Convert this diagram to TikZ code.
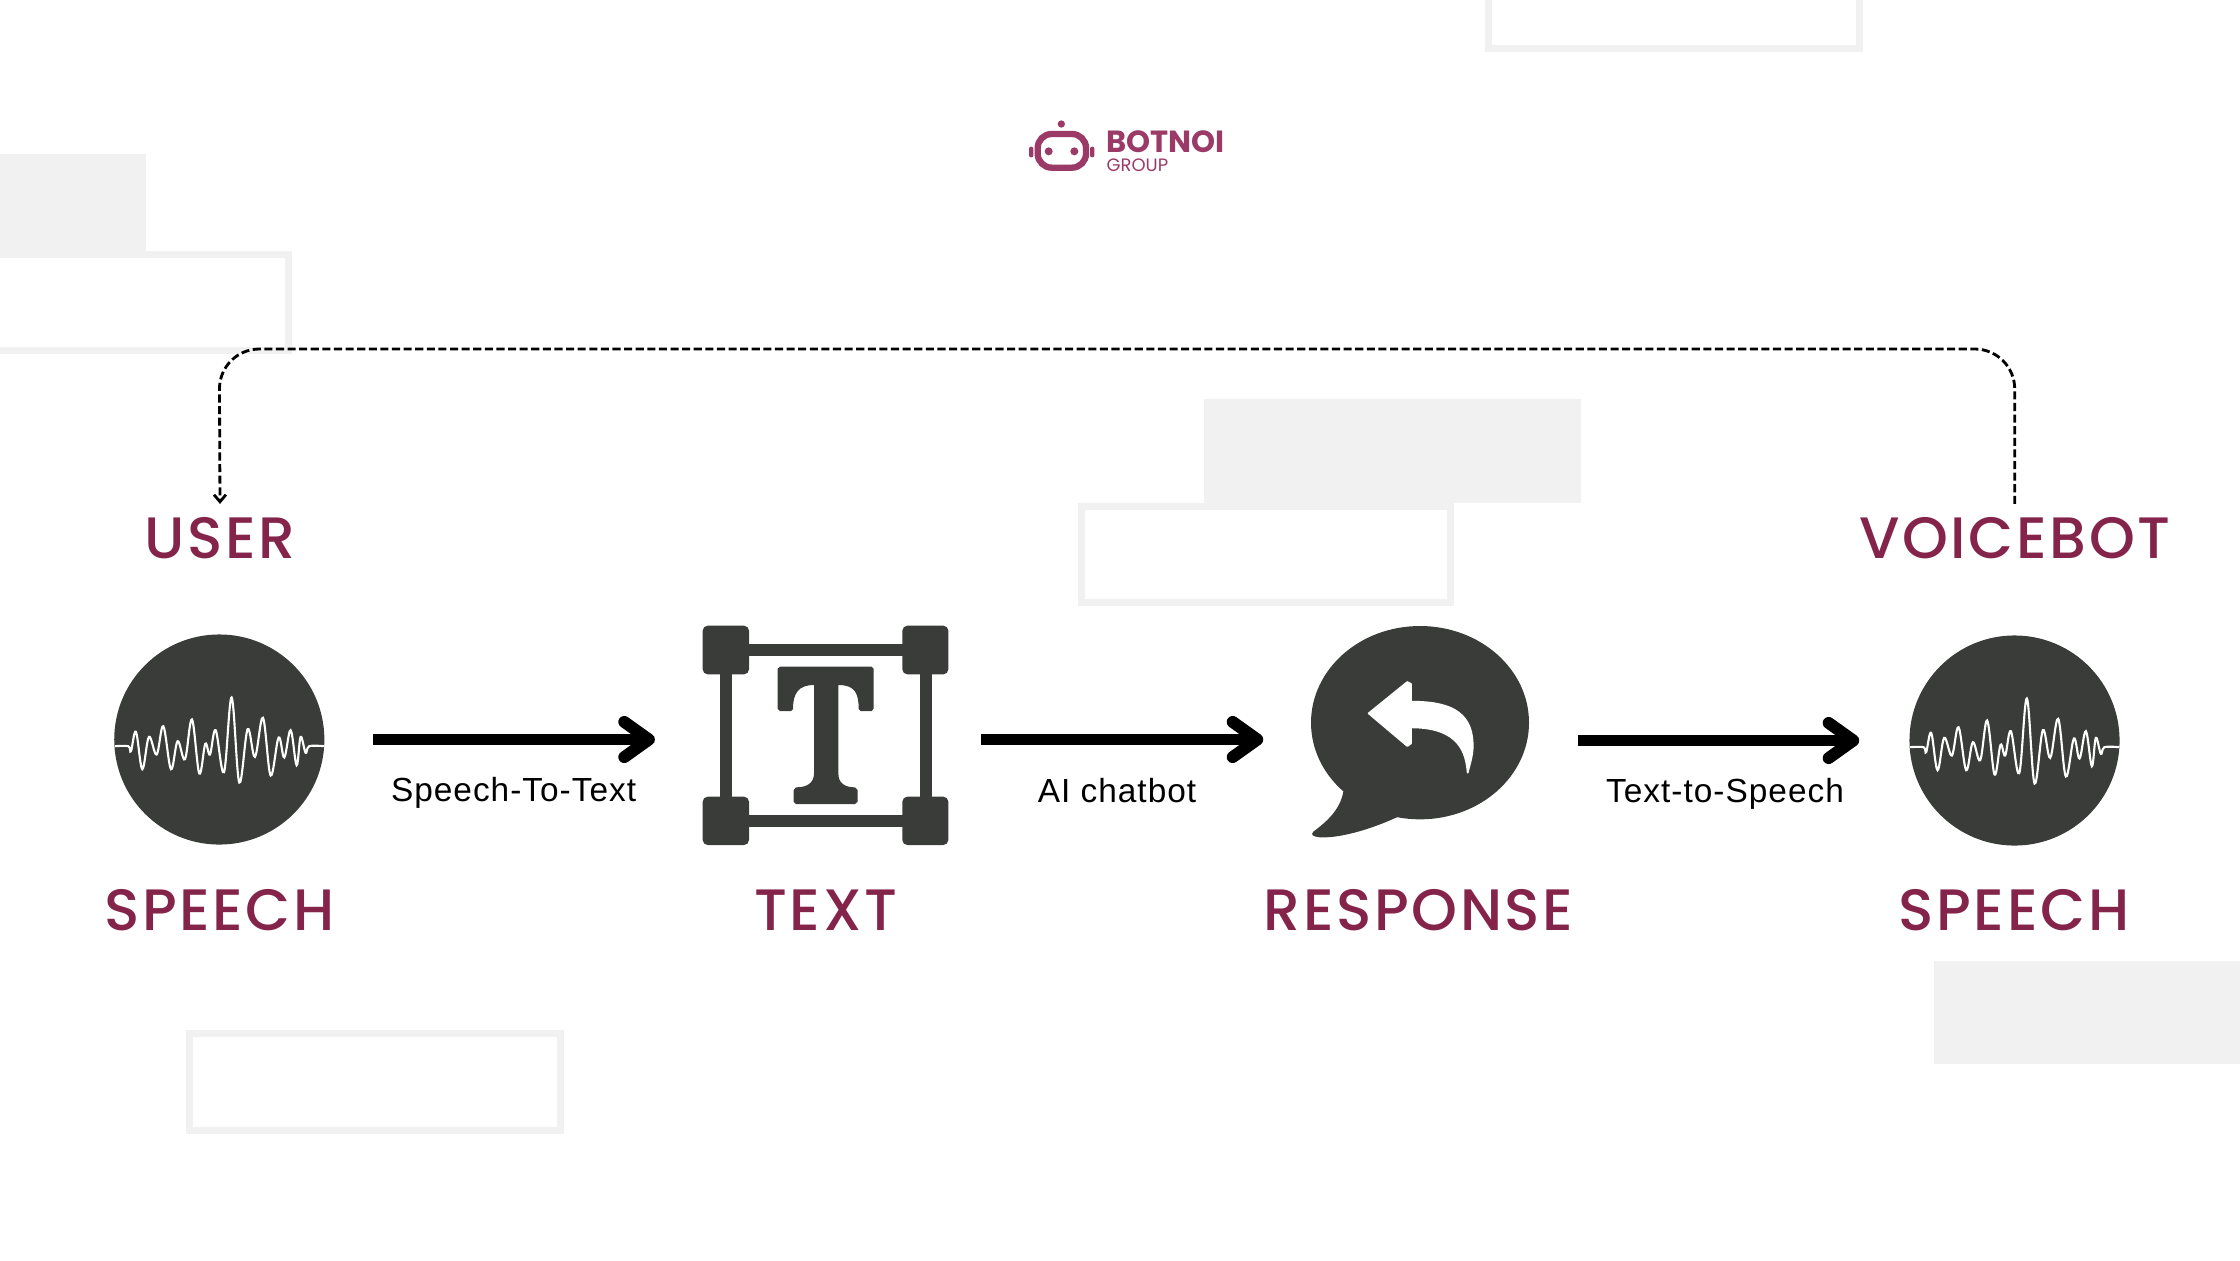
\documentclass[tikz,border=0pt]{standalone}
\usepackage{fontspec}
\setmainfont[LetterSpace=3]{Liberation Sans}
\newfontfamily\headfont[LetterSpace=4.5]{Poppins Medium}
\newfontfamily\logofont[BoldFont=Poppins Bold]{Poppins}
\usetikzlibrary{arrows.meta}
\definecolor{wine}{HTML}{84244B}
\definecolor{botnoi}{HTML}{9B3A66}
\definecolor{icondark}{HTML}{393C39}
\definecolor{panelgrey}{HTML}{F1F1F1}
\tikzset{
  panel/.style={fill=panelgrey},
  panelline/.style={draw=panelgrey,line width=2pt},
  heading/.style={text=wine,font=\headfont\fontsize{16.6}{18}\selectfont,inner sep=0pt,outer sep=3.7pt,anchor=base},
  caption/.style={text=black,font=\fontsize{9.5}{11}\selectfont,inner sep=0pt,anchor=base},
  wavespot/.style={circle,fill=icondark,inner sep=0pt,minimum size=2.1cm},
  flow/.style={line width=3.4pt,-{Straight Barb[length=7pt,width=10pt,round]}},
  loopline/.style={line width=.8pt,dash pattern=on 2.3pt off 1pt,rounded corners=.4cm,-{Straight Barb[length=2pt,width=3.4pt]}},
}
\newcommand{\speechwave}[1]{
\begin{scope}[shift={(#1)},scale=1/3,shift={(-358,-358)}]
\draw[white,line width=.6pt] plot[smooth,tension=.6] coordinates {(45,378) (85,378) (93,393) (108,335) (127,447) (147,350) (170,403) (190,318) (213,447) (233,363) (255,417) (276,298) (298,460) (316,371) (330,403) (347,330) (372,456) (395,232) (418,487) (443,327) (465,410) (489,293) (512,466) (536,352) (553,412) (572,330) (590,435) (602,350) (617,398) (628,378) (672,378)};
\end{scope}
}
\begin{document}
\begin{tikzpicture}[x=.01cm,y=-.01cm]
\useasboundingbox (0,0) rectangle (2240,1260);
% background panels
\fill[panel] (-10,154) rectangle (146,257);
\draw[panelline] (-10,254.5) -- (288.5,254.5) -- (288.5,350.5) -- (-10,350.5);
\fill[panel] (1204,399) rectangle (1581,503);
\draw[panelline] (1081.5,506.5) rectangle (1450.5,602.5);
\draw[panelline] (189.5,1033.8) rectangle (560.5,1130.5);
\draw[panelline] (1488.5,-10) rectangle (1859.5,48.3);
\fill[panel] (1934,961.4) rectangle (2250,1064.3);
% logo
\begin{scope}[shift={(1000,100)},scale=1/3]
\fill[botnoi] (184,72) circle (11);
\draw[botnoi,line width=1.8pt,rounded corners=.14cm] (113,102) rectangle (258,203);
\fill[botnoi] (146,154) circle (12) (223,154) circle (12);
\fill[botnoi,rounded corners=.02cm] (87,140) rectangle (100,172) (270,140) rectangle (283,172);
\end{scope}
\node[text=botnoi,font=\logofont\bfseries\fontsize{8.7}{9}\selectfont,inner sep=0pt,anchor=base west] (logoname) at (1105.5,152.7) {BOTNOI};
\node[text=botnoi,font=\logofont\fontsize{5.1}{6}\selectfont,inner sep=0pt,anchor=base west] (logogroup) at (1106,171) {GROUP};
% icons
\node[wavespot] (speechA) at (219.3,739.5) {};
\speechwave{speechA.center}
\node[wavespot] (speechB) at (2014.5,740.5) {};
\speechwave{speechB.center}
\node[inner sep=0pt,minimum width=2.456cm,minimum height=2.193cm] (iconT) at (825.5,735.3) {};
\begin{scope}[shift={(690,610)},scale=1/3]
\draw[icondark,line width=3.3pt] (107.5,120.5) rectangle (707.5,632.5);
\fill[icondark,rounded corners=.05cm] (38,47) rectangle (177,193) (637,47) rectangle (775,193) (38,560) rectangle (177,705) (637,560) rectangle (775,705);
\fill[icondark] (270,170) -- (545,170) -- (551,176) -- (551,296) -- (545,303) -- (512,303) -- (506,297) .. controls (506,250) and (495,225) .. (445,225) -- (445,490) .. controls (445,520) and (465,532) .. (495,532) -- (503,540) -- (503,575) -- (495,582) -- (318,582) -- (311,575) -- (311,540) -- (318,532) .. controls (350,532) and (372,520) .. (372,490) -- (372,225) .. controls (325,225) and (309,250) .. (309,297) -- (303,303) -- (270,303) -- (263,296) -- (263,176) -- cycle;
\end{scope}
\node[inner sep=0pt,minimum width=2.183cm,minimum height=1.94cm] (bubble) at (1419.9,722.5) {};
\begin{scope}[shift={(1290,610)},scale=1/3]
\fill[icondark] (390,338) ellipse (327 and 290);
\fill[icondark] (160,545) .. controls (150,600) and (110,635) .. (70,665) .. controls (60,675) and (70,680) .. (90,682) .. controls (160,685) and (260,650) .. (320,622) -- (400,500) -- cycle;
\filldraw[white,line width=.5pt,line join=round] (236,310) -- (352,216) -- (363,222) -- (363,275) .. controls (470,275) and (545,300) .. (548,400) .. controls (550,430) and (540,460) .. (533,488) .. controls (528,430) and (510,352) .. (363,352) -- (363,400) -- (352,408) -- cycle;
\end{scope}
% labels
\node[heading] (userlabel) at (220,558) {USER};
\node[heading] (voicelabel) at (2014.7,558) {VOICEBOT};
\node[heading] (speechlabelA) at (219.6,930) {SPEECH};
\node[heading] (textlabel) at (825.7,930) {TEXT};
\node[heading] (responselabel) at (1418.6,930) {RESPONSE};
\node[heading] (speechlabelB) at (2014,930) {SPEECH};
\node[caption] (sttlabel) at (513.6,801) {Speech-To-Text};
\node[caption] (chatlabel) at (1117,802) {AI chatbot};
\node[caption] (ttslabel) at (1725,802) {Text-to-Speech};
% connectors
\draw[flow,shorten <=.48cm,shorten >=.47cm] (speechA.east) -- (speechA.east -| iconT.west);
\draw[flow,shorten <=.32cm,shorten >=.467cm] (speechA.east -| iconT.east) -- (speechA.east -| bubble.west);
\draw[flow,shorten <=.477cm,shorten >=.495cm] (speechB.west -| bubble.east) -- (speechB.west);
\coordinate (loopright) at (2014.7,349);
\coordinate (loopleft) at (219.3,349);
\draw[loopline] (voicelabel.north) -- (loopright) -- (loopleft) -- (userlabel.north);
\end{tikzpicture}
\end{document}
